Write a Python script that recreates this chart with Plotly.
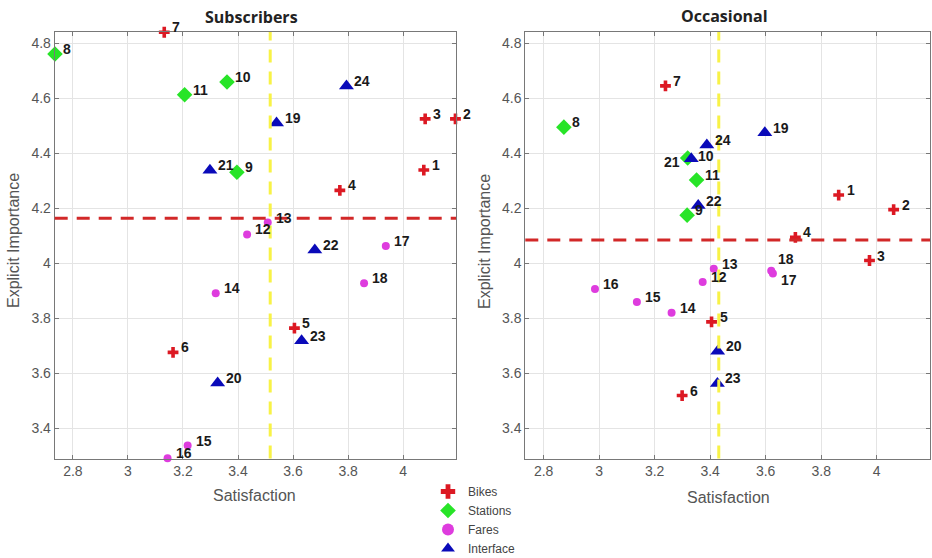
import plotly.graph_objects as go

# ---------------- data ----------------
categories = ["Bikes", "Stations", "Fares", "Interface"]
item_ids = list(range(1, 25))
item_cat = ["Bikes"] * 7 + ["Stations"] * 4 + ["Fares"] * 7 + ["Interface"] * 6

sub_satisfaction = [4.075, 4.19, 4.08, 3.77, 3.605, 3.164, 3.132,
                    2.735, 3.396, 3.36, 3.206,
                    3.433, 3.508, 3.319, 3.217, 3.144, 3.937, 3.858,
                    3.540, 3.326, 3.298, 3.679, 3.631, 3.794]
sub_importance = [4.339, 4.525, 4.525, 4.265, 3.764, 3.676, 4.840,
                  4.761, 4.331, 4.659, 4.613,
                  4.105, 4.148, 3.891, 3.337, 3.291, 4.063, 3.927,
                  4.51, 3.565, 4.338, 4.048, 3.718, 4.645]

occ_satisfaction = [3.863, 4.061, 3.974, 3.707, 3.405, 3.299, 3.239,
                    2.873, 3.317, 3.319, 3.351,
                    3.373, 3.413, 3.261, 3.136, 2.985, 3.626, 3.620,
                    3.597, 3.427, 3.332, 3.357, 3.426, 3.388]
occ_importance = [4.248, 4.195, 4.010, 4.094, 3.787, 3.519, 4.645,
                  4.495, 4.175, 4.383, 4.303,
                  3.932, 3.980, 3.820, 3.859, 3.906, 3.963, 3.973,
                  4.475, 3.68, 4.38, 4.21, 3.563, 4.43]

sub_mean_satisfaction = 3.517
sub_mean_importance = 4.164
occ_mean_satisfaction = 3.431
occ_mean_importance = 4.085

x_range = [2.734, 4.192]
y_range = [3.29, 4.841]
x_tickvals = [2.8, 3.0, 3.2, 3.4, 3.6, 3.8, 4.0]
x_ticktext = ["2.8", "3", "3.2", "3.4", "3.6", "3.8", "4"]
y_tickvals = [3.4, 3.6, 3.8, 4.0, 4.2, 4.4, 4.6, 4.8]
y_ticktext = ["3.4", "3.6", "3.8", "4", "4.2", "4.4", "4.6", "4.8"]

# ---------------- styles ----------------
style = {
    "Bikes": dict(symbol="cross", size=9, color="rgb(220,25,35)", line=dict(width=0)),
    "Stations": dict(symbol="diamond", size=12, color="rgb(40,228,40)", line=dict(width=0)),
    "Fares": dict(symbol="circle", size=8, color="rgb(222,60,222)", line=dict(width=0)),
    "Interface": dict(symbol="triangle-up", size=13, color="rgb(10,10,185)", line=dict(width=0)),
}

# label offsets (pixels): default right/up; a few special ones in the Occasional panel
default_shift = (6, 5, "left")
occ_shift = {21: (-9, -3, "right"), 17: (6, -7, "left"), 18: (5, 12, "left"),
             10: (8, 2, "left")}

fig = go.Figure()

panels = [
    ("x", "y", sub_satisfaction, sub_importance, {}),
    ("x2", "y2", occ_satisfaction, occ_importance, occ_shift),
]

label_font = dict(family="Liberation Sans, Arial", size=14, color="#1a1a1a", weight="bold")
annotations = []

for pi, (xa, ya, xs, ys, shifts) in enumerate(panels):
    for cat in categories:
        idx = [i for i, c in enumerate(item_cat) if c == cat]
        fig.add_trace(go.Scatter(
            x=[xs[i] for i in idx], y=[ys[i] for i in idx],
            mode="markers",
            marker=style[cat], name=cat, legendgroup=cat,
            showlegend=(pi == 0), xaxis=xa, yaxis=ya, cliponaxis=False,
        ))
    for i in range(len(item_ids)):
        dx, dy, anch = shifts.get(item_ids[i], default_shift)
        annotations.append(dict(
            x=xs[i], y=ys[i], xref=xa, yref=ya, text=str(item_ids[i]),
            showarrow=False, xanchor=anch, yanchor="middle",
            xshift=dx, yshift=dy, font=label_font,
        ))

# mean lines
line_sets = [
    ("x", "y", sub_mean_satisfaction, sub_mean_importance),
    ("x2", "y2", occ_mean_satisfaction, occ_mean_importance),
]
shapes = []
for xa, ya, mx, my in line_sets:
    dom_y = "y domain" if ya == "y" else "y2 domain"
    dom_x = "x domain" if xa == "x" else "x2 domain"
    shapes.append(dict(type="line", xref=xa, yref=dom_y, x0=mx, x1=mx, y0=0, y1=1,
                       line=dict(color="rgb(248,242,70)", width=3, dash="13px,9px"), layer="above"))
    shapes.append(dict(type="line", xref=dom_x, yref=ya, x0=0, x1=1, y0=my, y1=my,
                       line=dict(color="rgb(210,40,40)", width=3, dash="13px,9px"), layer="above"))

W, H = 932, 558
axis_common = dict(
    showgrid=True, gridcolor="rgb(228,228,228)", gridwidth=1,
    showline=True, linecolor="rgb(120,120,120)", linewidth=1, mirror="ticks",
    ticks="inside", ticklen=4, tickcolor="rgb(120,120,120)", zeroline=False,
    tickfont=dict(family="Liberation Sans, Arial", size=14, color="#555555"),
)
ydom = [1 - 458.5 / H, 1 - 32 / H]

ann_font = dict(family="Liberation Sans, Arial", size=16, color="#555555")
title_font = dict(family="Open Sans, Liberation Sans", size=16, color="#222222", weight="bold")
annotations += [
    dict(text="Subscribers", x=251 / W, y=1 - 17 / H, xref="paper", yref="paper",
         showarrow=False, font=title_font, xanchor="center", yanchor="middle"),
    dict(text="Occasional", x=724 / W, y=1 - 16 / H, xref="paper", yref="paper",
         showarrow=False, font=title_font, xanchor="center", yanchor="middle"),
    dict(text="Satisfaction", x=255 / W, y=1 - 495 / H, xref="paper", yref="paper",
         showarrow=False, font=ann_font, xanchor="center", yanchor="middle"),
    dict(text="Satisfaction", x=728 / W, y=1 - 497 / H, xref="paper", yref="paper",
         showarrow=False, font=ann_font, xanchor="center", yanchor="middle"),
    dict(text="Explicit Importance", x=13 / W, y=1 - 241 / H, xref="paper", yref="paper",
         showarrow=False, font=ann_font, textangle=-90, xanchor="center", yanchor="middle"),
    dict(text="Explicit Importance", x=484 / W, y=1 - 241 / H, xref="paper", yref="paper",
         showarrow=False, font=ann_font, textangle=-90, xanchor="center", yanchor="middle"),
]

fig.update_layout(
    width=W, height=H,
    margin=dict(l=0, r=0, t=0, b=0, autoexpand=False),
    paper_bgcolor="white", plot_bgcolor="white",
    showlegend=True,
    legend=dict(x=428 / W, y=-5 / H, xanchor="left", yanchor="bottom",
                font=dict(family="Liberation Sans, Arial", size=12, color="#444444"),
                bgcolor="rgba(0,0,0,0)", tracegroupgap=0, itemsizing="constant",
                borderwidth=0),
    xaxis=dict(axis_common, domain=[54.7 / W, 456 / W], range=x_range,
               tickvals=x_tickvals, ticktext=x_ticktext, anchor="y"),
    yaxis=dict(axis_common, domain=ydom, range=y_range,
               tickvals=y_tickvals, ticktext=y_ticktext, anchor="x"),
    xaxis2=dict(axis_common, domain=[525.3 / W, 930 / W], range=x_range,
                tickvals=x_tickvals, ticktext=x_ticktext, anchor="y2"),
    yaxis2=dict(axis_common, domain=ydom, range=y_range,
                tickvals=y_tickvals, ticktext=y_ticktext, anchor="x2"),
    shapes=shapes,
    annotations=annotations,
)

fig.write_html("out.html",
               config={"displayModeBar": False},
               post_script="document.body.style.margin='0px';document.body.style.overflow='hidden';")
